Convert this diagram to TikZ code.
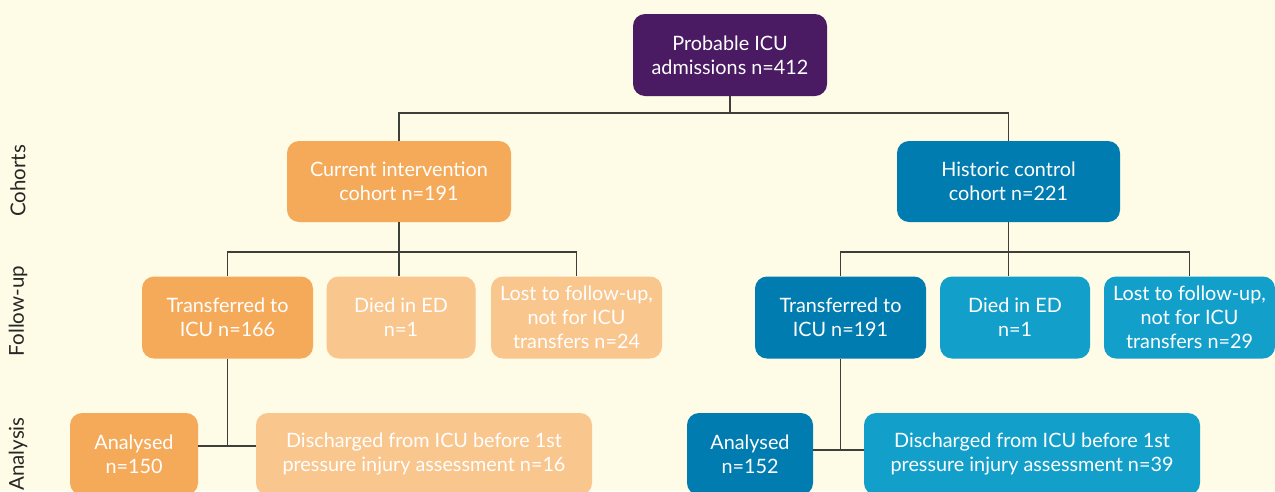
\documentclass[tikz,border=0pt]{standalone}
\usepackage{fontspec}
\setmainfont{Lato}
\definecolor{bg}{HTML}{FEFBE6}
\definecolor{purp}{HTML}{4A1A62}
\definecolor{org}{HTML}{F5AA5A}
\definecolor{lorg}{HTML}{F9C68E}
\definecolor{dblue}{HTML}{007CB0}
\definecolor{mblue}{HTML}{12A0CB}
\definecolor{ln}{HTML}{3E3E3A}
\begin{document}
\begin{tikzpicture}[x=1pt,y=1pt,
  box/.style={rectangle, rounded corners=12pt, text=white, align=center,
    inner sep=0pt, minimum height=82pt,
    font=\fontsize{19.8}{23.8}\selectfont},
  conn/.style={draw=ln, line width=1.4pt},
  rowlab/.style={rotate=90, text=black!85, font=\fontsize{20.5}{24}\selectfont, anchor=center}]
\clip (0,0) rectangle (1275,-491);
\fill[bg] (0,0) rectangle (1275,-491);
% nodes
\node[box, fill=purp, minimum width=194pt] (top) at (730,-55) {Probable ICU\\admissions n=412};
\node[box, fill=org, minimum width=224pt, minimum height=81pt] (cur) at (399,-181.5) {Current intervention\\cohort n=191};
\node[box, fill=dblue, minimum width=223pt, minimum height=81pt] (hist) at (1008.5,-181.5) {Historic control\\cohort n=221};
\node[box, fill=org, minimum width=171pt] (lt) at (227.5,-317.5) {Transferred to\\ICU n=166};
\node[box, fill=lorg, minimum width=149pt] (ld) at (401,-317.5) {Died in ED\\n=1};
\node[box, fill=lorg, minimum width=171pt] (ll) at (576.5,-317.5) {Lost to follow-up,\\not for ICU\\transfers n=24};
\node[box, fill=dblue, minimum width=171pt] (rt) at (840.5,-317.5) {Transferred to\\ICU n=191};
\node[box, fill=mblue, minimum width=150pt] (rd) at (1015,-317.5) {Died in ED\\n=1};
\node[box, fill=mblue, minimum width=171pt] (rl) at (1189.5,-317.5) {Lost to follow-up,\\not for ICU\\transfers n=29};
\node[box, fill=org, minimum width=128pt] (la) at (134,-454) {Analysed\\n=150};
\node[box, fill=lorg, minimum width=336pt] (ldis) at (424,-454) {Discharged from ICU before 1st\\pressure injury assessment n=16};
\node[box, fill=dblue, minimum width=126pt] (ra) at (750,-454) {Analysed\\n=152};
\node[box, fill=mblue, minimum width=336pt] (rdis) at (1032,-454) {Discharged from ICU before 1st\\pressure injury assessment n=39};
% row labels
\node[rowlab] (lc) at (18,-181) {Cohorts};
\node[rowlab] (lf) at (18,-311) {Follow-up};
\node[rowlab] (lan) at (18,-454) {Analysis};
% junctions
\coordinate (j1) at (730,-113);
\coordinate (j2) at (399,-252);
\coordinate (j3) at (1008.5,-252);
\coordinate (j4) at (227.5,-446);
\coordinate (j5) at (840.5,-450);
% connectors
\draw[conn] (top.south) -- (j1);
\draw[conn] (cur.north) |- (j1) -| (hist.north);
\draw[conn] (cur.south) -- (cur.south |- ld.north);
\draw[conn] (lt.north) |- (j2) -| (ll.north);
\draw[conn] (hist.south) -- (hist.south |- rd.north);
\draw[conn] (rt.north) |- (j3) -| (rl.north);
\draw[conn] (lt.south) -- (j4);
\draw[conn] (la.east |- j4) -- (ldis.west |- j4);
\draw[conn] (rt.south) -- (j5);
\draw[conn] (ra.east |- j5) -- (rdis.west |- j5);
\end{tikzpicture}
\end{document}
